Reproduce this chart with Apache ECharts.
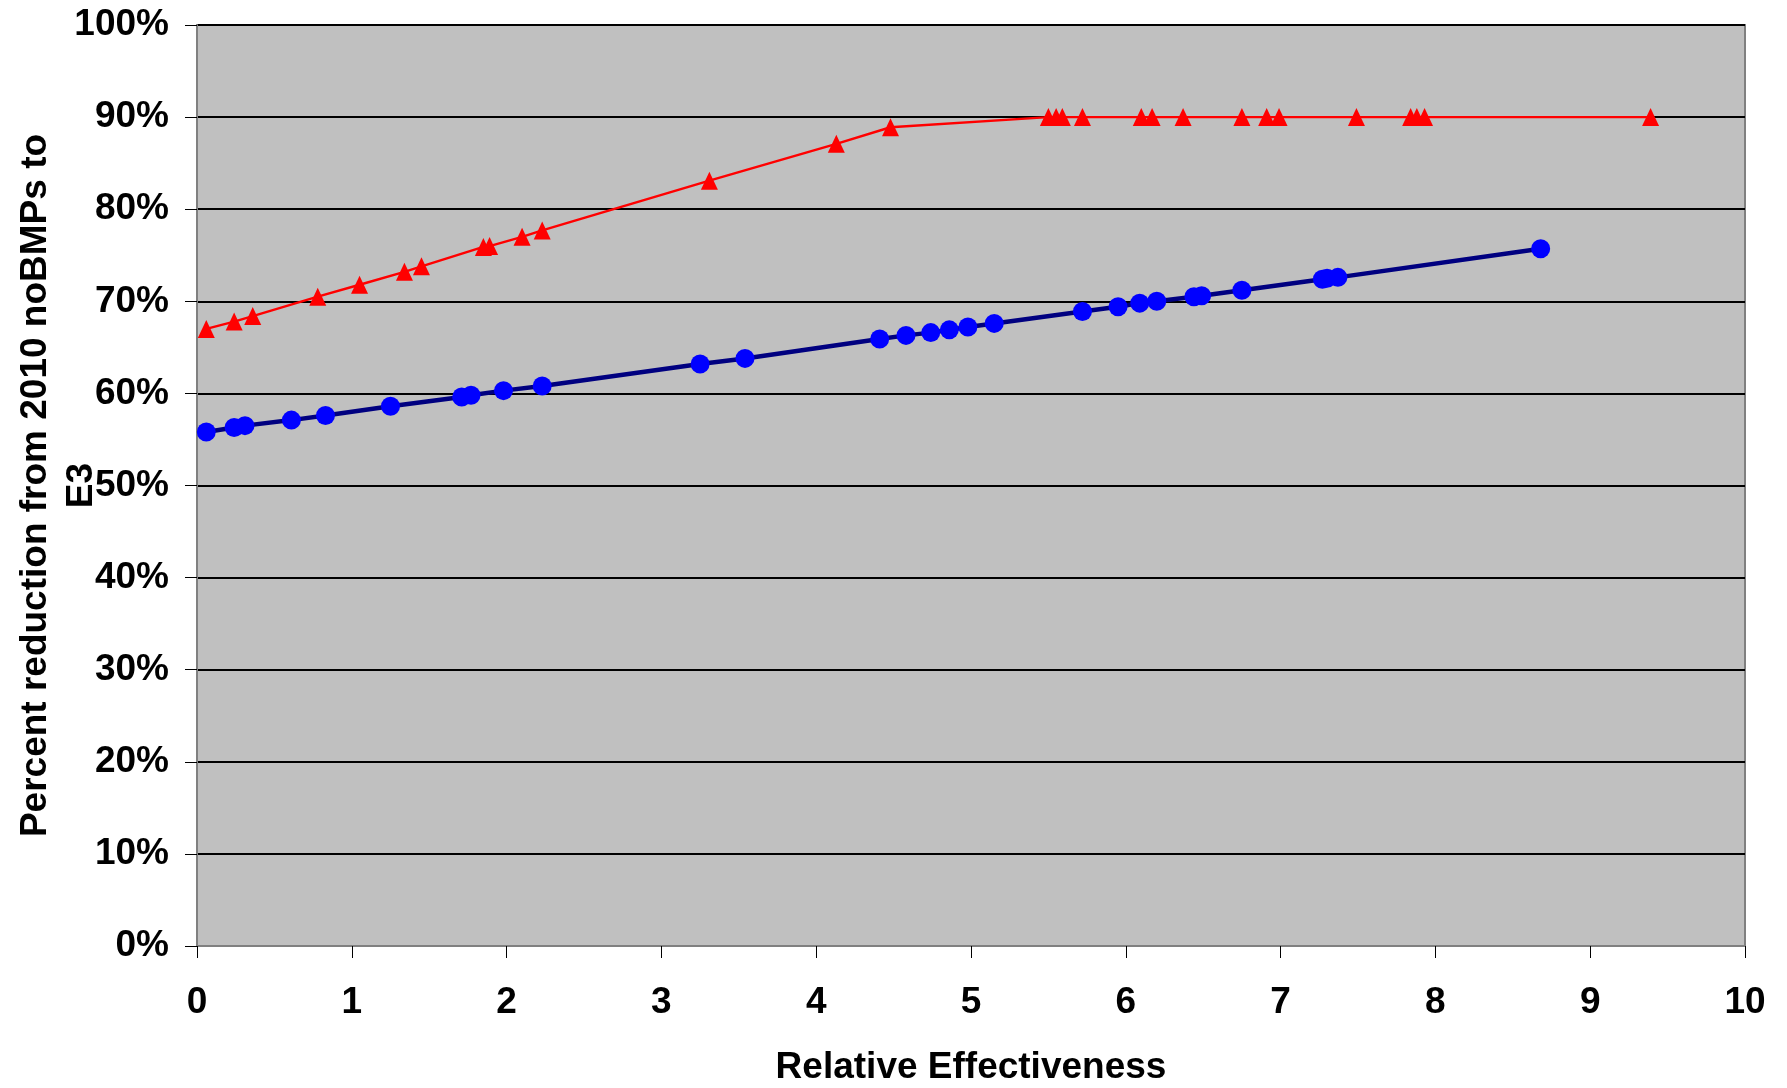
<!DOCTYPE html>
<html><head><meta charset="utf-8">
<script src="https://cdn.jsdelivr.net/npm/echarts@6/dist/echarts.min.js"></script>
<style>html,body{margin:0;padding:0;background:#fff}#c{width:1787px;height:1088px}</style>
</head><body><div id="c"></div>
<script>
// Series 1 (red triangles)
const redX = [0.06, 0.24, 0.36, 0.78, 1.05, 1.34, 1.45, 1.85, 1.89, 2.10, 2.23, 3.31, 4.13, 4.48,
  5.50, 5.55, 5.59, 5.72, 6.10, 6.17, 6.37, 6.75, 6.91, 6.99, 7.49, 7.84, 7.88, 7.93, 9.39];
const redY = [67.0, 67.8, 68.4, 70.5, 71.8, 73.2, 73.8, 75.9, 76.0, 77.0, 77.7, 83.1, 87.1, 88.9,
  90, 90, 90, 90, 90, 90, 90, 90, 90, 90, 90, 90, 90, 90, 90];
// Series 2 (blue circles)
const blueX = [0.06, 0.24, 0.31, 0.61, 0.83, 1.25, 1.71, 1.77, 1.98, 2.23, 3.25, 3.54,
  4.41, 4.58, 4.74, 4.86, 4.98, 5.15, 5.72, 5.95, 6.09, 6.20, 6.44, 6.49, 6.75,
  7.27, 7.30, 7.37, 8.68];
const blueY = [55.8, 56.3, 56.5, 57.1, 57.6, 58.6, 59.6, 59.8, 60.3, 60.8, 63.2, 63.8,
  65.9, 66.3, 66.6, 66.9, 67.2, 67.6, 68.9, 69.4, 69.8, 70.0, 70.5, 70.6, 71.2,
  72.4, 72.5, 72.6, 75.7];
const xTicks = [0, 1, 2, 3, 4, 5, 6, 7, 8, 9, 10];
const yTicks = [0, 10, 20, 30, 40, 50, 60, 70, 80, 90, 100];
const xTitle = 'Relative Effectiveness';
const yTitle = 'Percent reduction from 2010 noBMPs to\nE3';

const FONT = '"Liberation Sans", Arial, sans-serif';
const chart = echarts.init(document.getElementById('c'), null, {renderer: 'canvas'});
chart.setOption({
  backgroundColor: '#ffffff',
  animation: false,
  grid: {left: 197, right: 42, top: 25, bottom: 142, show: true, containLabel: false,
    outerBoundsMode: 'none',
    backgroundColor: '#C0C0C0', borderColor: '#808080', borderWidth: 2},
  xAxis: {
    type: 'value', min: xTicks[0], max: xTicks[xTicks.length - 1], interval: 1,
    name: xTitle, nameLocation: 'middle', nameGap: 103, nameMoveOverlap: false,
    nameTextStyle: {fontFamily: FONT, fontWeight: 'bold', fontSize: 37, color: '#000'},
    axisLine: {show: true, lineStyle: {color: '#808080', width: 2}},
    axisTick: {show: true, length: 12, lineStyle: {color: '#000', width: 1}},
    axisLabel: {fontFamily: FONT, fontWeight: 'bold', fontSize: 37, color: '#000', margin: 38},
    splitLine: {show: false}
  },
  yAxis: {
    type: 'value', min: yTicks[0], max: yTicks[yTicks.length - 1], interval: 10,
    name: yTitle, nameLocation: 'middle', nameGap: 92, nameRotate: 90, nameMoveOverlap: false,
    nameTextStyle: {fontFamily: FONT, fontWeight: 'bold', fontSize: 37, color: '#000', lineHeight: 46, align: 'center'},
    axisLine: {show: true, lineStyle: {color: '#808080', width: 2}},
    axisTick: {show: true, length: 12, lineStyle: {color: '#000', width: 1}},
    axisLabel: {fontFamily: FONT, fontWeight: 'bold', fontSize: 37, color: '#000', margin: 28,
      formatter: '{value}%'},
    splitLine: {show: true, lineStyle: {color: '#000', width: 2}}
  },
  series: [
    {
      type: 'line', name: 'red', data: redX.map((x, i) => [x, redY[i]]),
      symbol: 'triangle', symbolSize: [17, 18], showSymbol: true,
      itemStyle: {color: '#FF0000'},
      lineStyle: {color: '#FF0000', width: 2.4}, z: 3
    },
    {
      type: 'line', name: 'blue', data: blueX.map((x, i) => [x, blueY[i]]),
      symbol: 'circle', symbolSize: 19, showSymbol: true,
      itemStyle: {color: '#0000FF'},
      lineStyle: {color: '#000080', width: 4.5}, z: 4
    }
  ]
});
</script></body></html>
